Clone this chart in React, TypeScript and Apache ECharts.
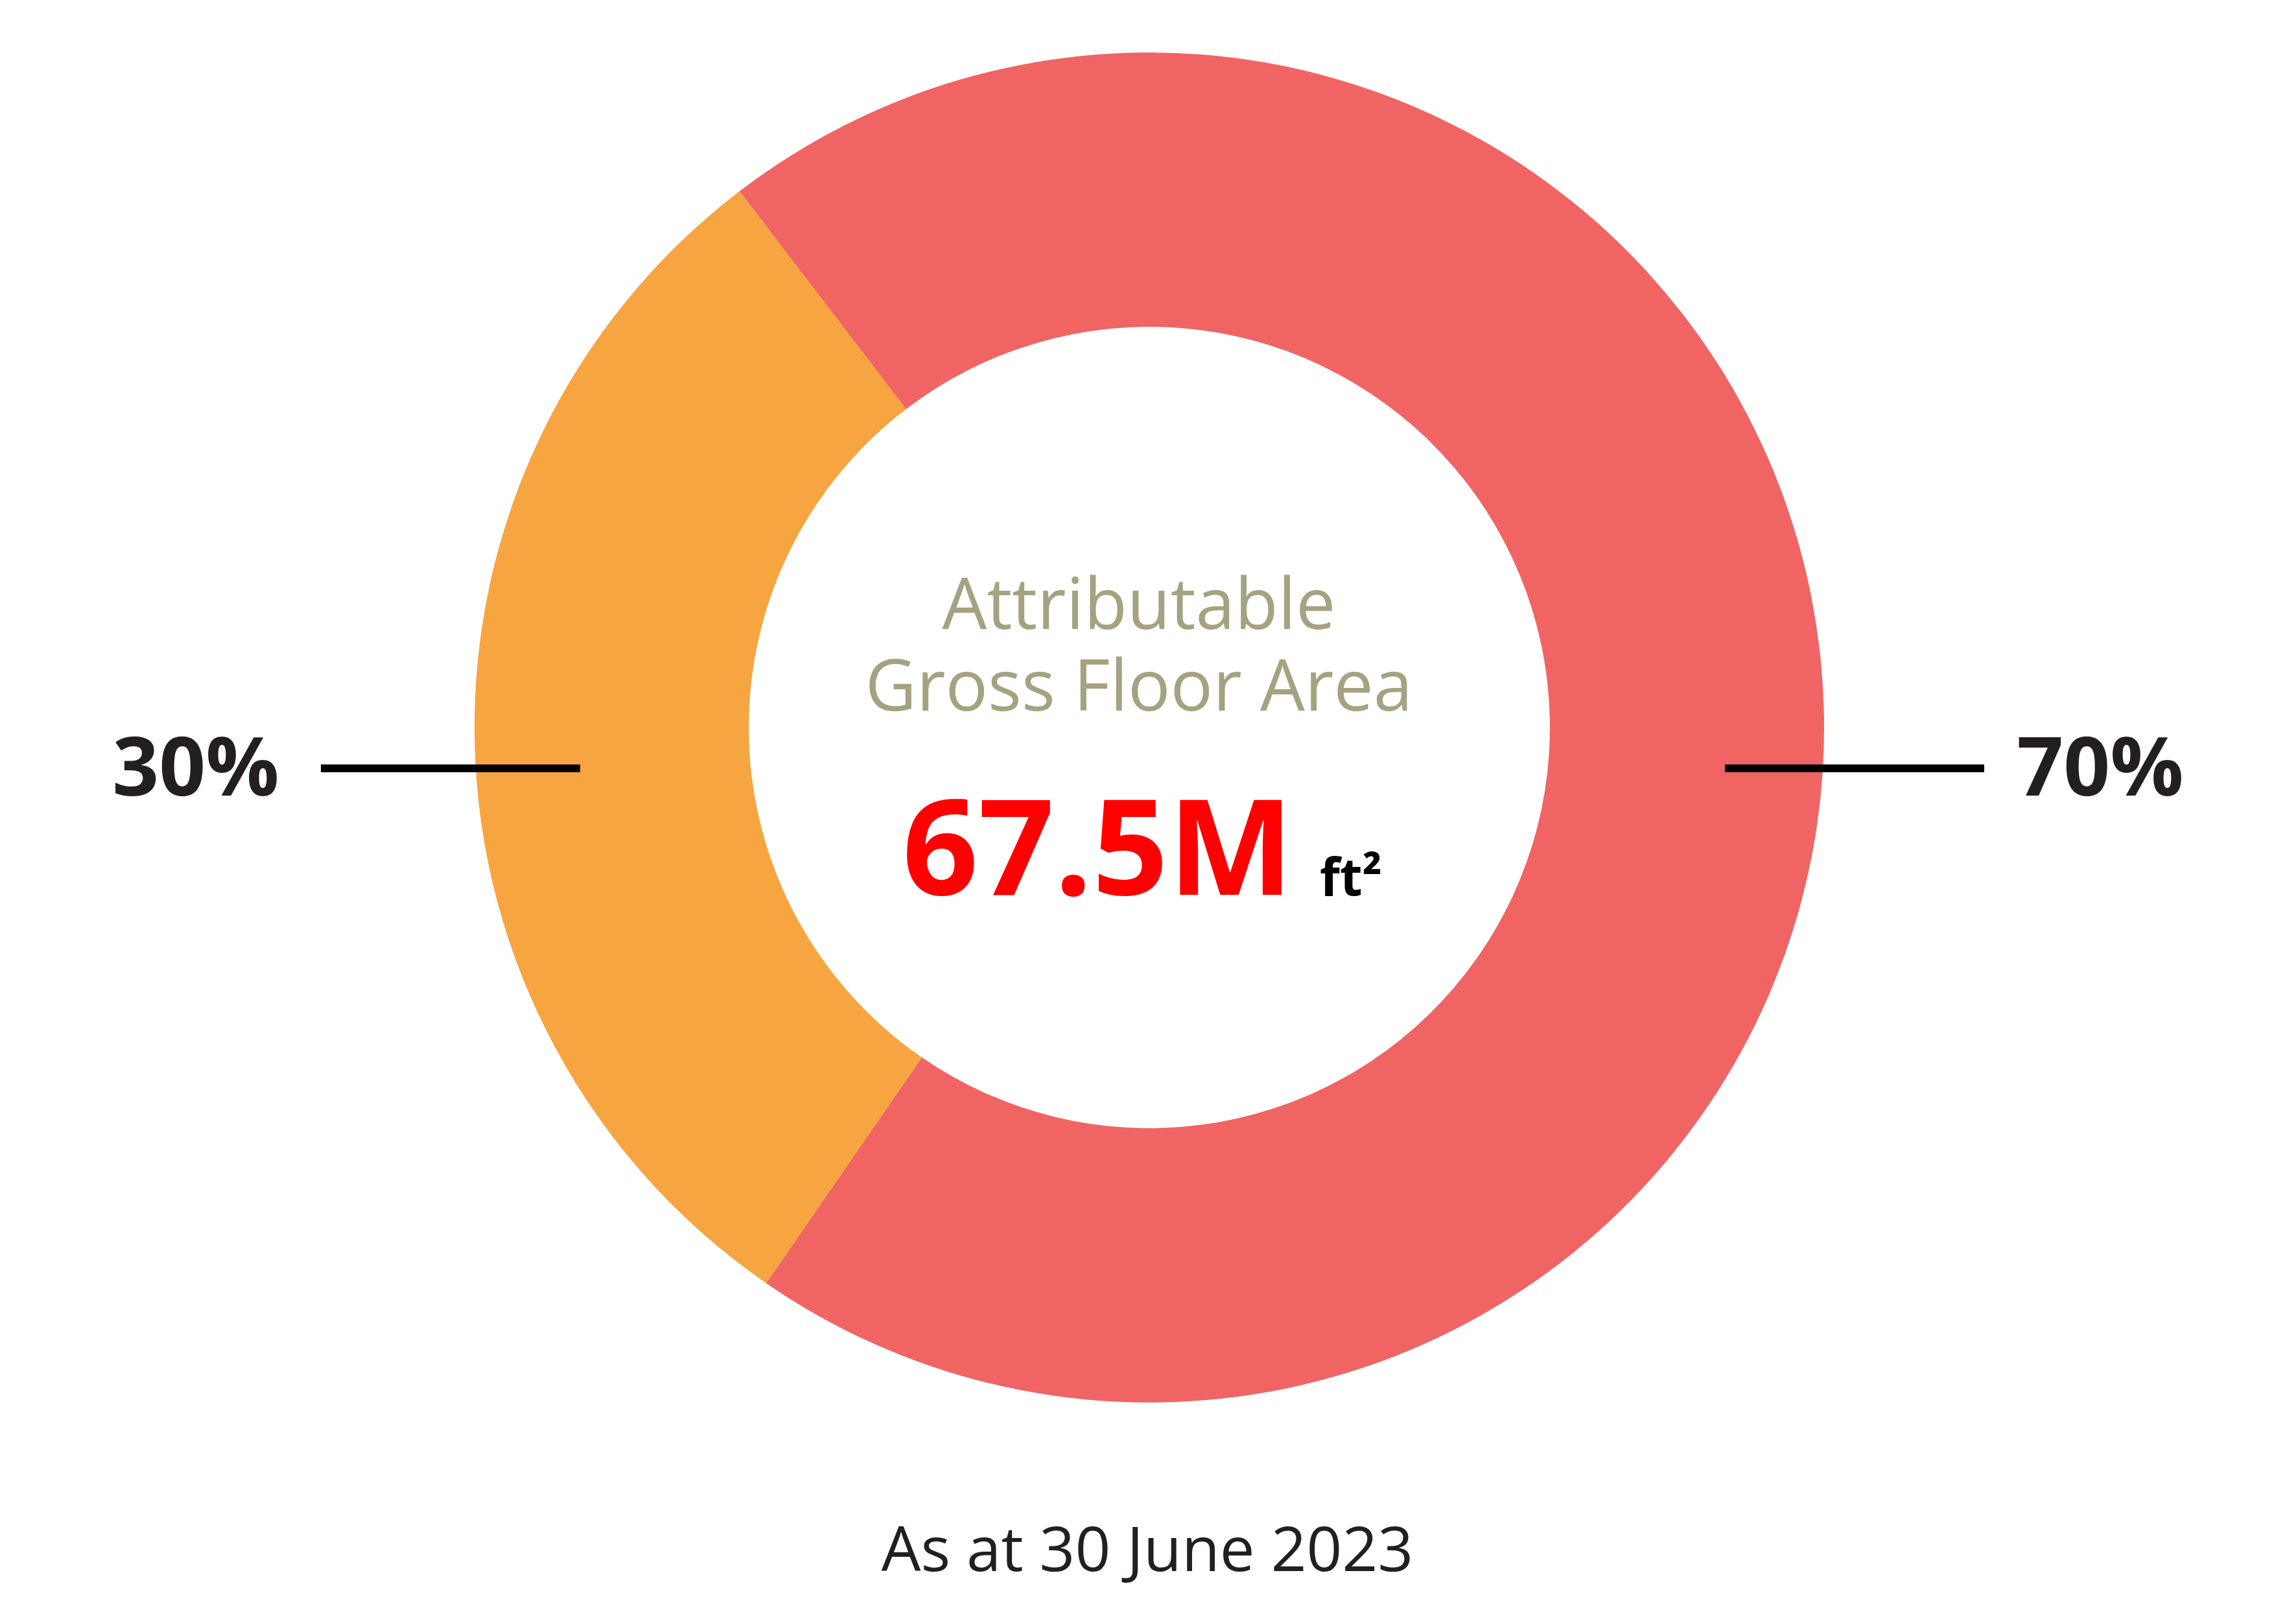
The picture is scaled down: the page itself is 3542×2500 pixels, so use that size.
import React, { useEffect, useRef } from "react";
import * as echarts from "echarts";

// ---- data ----
const segmentNames = ["Segment A", "Segment B"];
const segmentValues = [70, 30];
const segmentColors = ["#F06464", "#F6A540"];
const titleLines = ["Attributable", "Gross Floor Area"];
const totalValue = "67.5M";
const totalUnit = "ft²";
const footnote = "As at 30 June 2023";

const W = 3542;
const H = 2500;
const CX = 1773;
const CY = 1122;
const FONT = "'Open Sans', 'Noto Sans', sans-serif";
const DARK = "#231F20";

export default function App() {
  const ref = useRef<HTMLDivElement>(null);
  useEffect(() => {
    if (!ref.current) return;
    document.body.style.margin = "0";
    const chart = echarts.init(ref.current, undefined, { renderer: "svg", width: W, height: H });
    const total = segmentValues.reduce((a, b) => a + b, 0);
    const pct = segmentValues.map((v) => Math.round((v / total) * 100) + "%");

    const txt = (text: string, x: number, y: number, size: number, fill: string, weight: string, align: string = "center", lh?: number) => ({
      type: "text",
      z: 100,
      style: {
        text,
        x,
        y,
        fill,
        fontFamily: FONT,
        fontSize: size,
        fontWeight: weight,
        lineHeight: lh ?? Math.round(size * 1.15),
        textAlign: align,
        textVerticalAlign: "middle",
      },
    });

    chart.setOption({
      animation: false,
      backgroundColor: "#ffffff",
      series: [
        {
          type: "pie",
          center: [CX, CY],
          radius: [618, 1041],
          startAngle: 127.4,
          clockwise: true,
          label: { show: false },
          labelLine: { show: false },
          emphasis: { disabled: true },
          silent: true,
          data: segmentNames.map((n, i) => ({
            name: n,
            value: segmentValues[i],
            itemStyle: { color: segmentColors[i] },
          })),
        },
      ],
      graphic: [
        { type: "line", z: 100, shape: { x1: 495, y1: 1185, x2: 895, y2: 1185 }, style: { stroke: "#000", lineWidth: 12 } },
        { type: "line", z: 100, shape: { x1: 2661, y1: 1185, x2: 3061, y2: 1185 }, style: { stroke: "#000", lineWidth: 12 } },
        txt(pct[1], 302, 1178, 126, DARK, "bold"),
        txt(pct[0], 3240, 1178, 126, DARK, "bold"),
        txt(titleLines.join("\n"), 1757, 990, 109, "#A4A281", "normal", "center", 126),
        txt(totalValue, 1392, 1300, 205, "#FF0000", "bold", "left"),
        txt(totalUnit, 2036, 1349, 80, "#000000", "bold", "left"),
        txt(footnote, 1770, 2385, 96, DARK, "normal"),
      ],
    });
    return () => chart.dispose();
  }, []);
  return <div ref={ref} style={{ position: "fixed", left: 0, top: 0, width: W, height: H }} />;
}
